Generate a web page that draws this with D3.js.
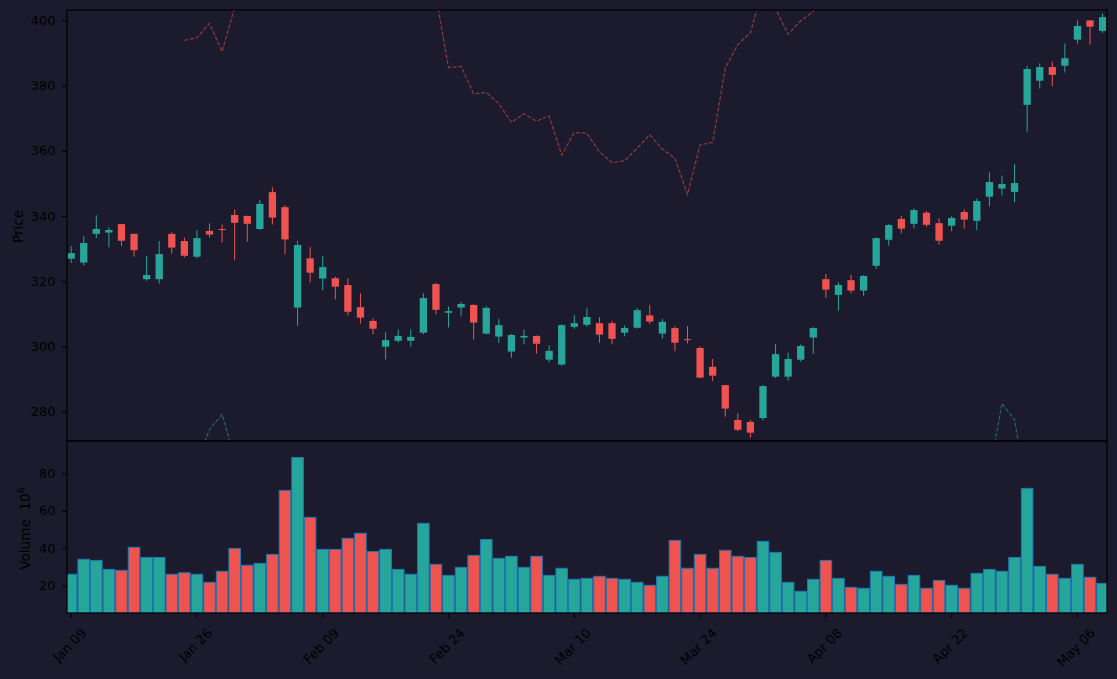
<!DOCTYPE html>
<html>
<head>
<meta charset="utf-8">
<script src="https://cdn.jsdelivr.net/npm/d3@7"></script>
<style>
  html, body { margin: 0; padding: 0; background: #1b1b2d; }
  svg { display: block; font-family: "DejaVu Sans", sans-serif; }
</style>
</head>
<body>
<svg id="chart" width="1117" height="679"></svg>
<script>
// tick labels on the date axis (every 10th session)
const tickIndex = [0, 10, 20, 30, 40, 50, 60, 70, 80];
const tickLabels = ["Jan 09", "Jan 26", "Feb 09", "Feb 24", "Mar 10", "Mar 24", "Apr 08", "Apr 22", "May 06"];

const open = [326.9, 325.7, 334.5, 334.9, 337.5, 334.5, 320.6, 320.6, 334.5, 332.3,
  327.5, 335.4, 336.0, 340.3, 340.0, 336.0, 347.3, 342.7, 311.9, 327.0,
  320.8, 320.9, 318.8, 312.0, 307.8, 299.9, 301.7, 301.7, 304.2, 319.1,
  310.3, 311.9, 312.7, 303.9, 303.0, 298.4, 302.7, 303.2, 295.9, 294.4,
  306.0, 306.6, 307.1, 307.1, 304.2, 305.7, 309.5, 303.9, 305.6, 302.2,
  299.5, 293.7, 288.1, 277.4, 276.8, 278.0, 290.7, 290.7, 295.9, 302.7,
  320.6, 315.8, 320.3, 317.1, 324.7, 332.7, 339.1, 337.6, 341.0, 337.8,
  337.0, 341.2, 338.5, 345.9, 348.4, 347.4, 374.1, 381.5, 385.7, 386.1,
  394.1, 400.0, 396.8];
const high = [330.7, 333.8, 340.2, 336.5, 337.6, 334.6, 327.7, 332.3, 335.0, 333.4,
  335.6, 337.7, 337.4, 342.0, 340.1, 344.9, 348.8, 343.3, 332.4, 330.4,
  327.7, 321.4, 320.9, 316.3, 308.6, 304.3, 305.2, 305.2, 316.3, 319.4,
  312.2, 313.6, 312.9, 312.3, 308.4, 303.8, 305.2, 303.3, 300.3, 306.8,
  309.6, 311.8, 309.0, 307.8, 306.4, 311.8, 312.7, 308.4, 306.1, 306.2,
  300.0, 296.1, 288.2, 279.5, 277.4, 288.1, 300.7, 298.1, 300.6, 305.9,
  322.2, 319.6, 321.9, 321.9, 333.4, 337.5, 340.0, 342.3, 341.5, 339.3,
  340.0, 342.0, 345.3, 353.4, 352.4, 355.9, 386.0, 386.8, 387.4, 392.9,
  400.0, 400.1, 402.1];
const low = [325.6, 324.8, 333.3, 330.4, 330.8, 327.5, 320.1, 319.3, 328.5, 327.3,
  327.0, 333.4, 331.9, 326.4, 332.1, 335.7, 337.4, 328.2, 306.3, 319.6,
  317.2, 314.4, 309.5, 307.0, 303.7, 296.0, 301.2, 299.9, 303.7, 309.8,
  305.8, 309.2, 302.1, 303.6, 301.1, 296.5, 300.6, 297.8, 295.1, 294.1,
  305.4, 306.0, 301.1, 300.6, 303.1, 305.4, 306.9, 302.4, 298.5, 300.9,
  290.2, 289.3, 278.4, 273.9, 272.0, 277.3, 290.3, 289.5, 295.3, 297.7,
  314.9, 310.9, 316.3, 315.5, 323.8, 330.9, 334.7, 336.2, 336.7, 331.2,
  335.3, 336.1, 335.6, 342.9, 346.3, 344.2, 365.9, 379.1, 379.8, 384.0,
  392.9, 392.6, 396.2];
const close = [328.6, 331.7, 336.0, 335.7, 332.4, 329.5, 321.9, 328.3, 330.3, 327.8,
  333.2, 334.3, 335.8, 337.9, 337.6, 343.7, 339.5, 332.8, 331.1, 322.6,
  324.3, 318.3, 310.6, 308.8, 305.4, 301.9, 303.2, 302.9, 314.8, 311.2,
  310.8, 313.0, 307.3, 311.8, 306.5, 303.5, 303.2, 300.8, 298.6, 306.5,
  307.1, 309.0, 303.6, 302.3, 305.6, 311.1, 307.6, 307.5, 301.1, 302.0,
  290.4, 291.0, 280.9, 274.4, 273.5, 287.8, 297.6, 296.1, 300.1, 305.6,
  317.4, 318.8, 317.1, 321.6, 333.2, 337.2, 336.1, 341.8, 337.3, 332.4,
  339.4, 338.9, 344.6, 350.4, 349.8, 350.1, 385.1, 385.7, 383.3, 388.4,
  398.3, 398.1, 401.0];
// volume in millions
const volume = [26.1, 34.1, 33.5, 28.7, 28.2, 40.5, 35.1, 35.1, 26.1, 26.9,
  26.1, 21.8, 27.7, 39.9, 30.9, 31.9, 36.7, 70.9, 88.5, 56.5,
  39.4, 39.4, 45.3, 48.0, 38.3, 39.4, 28.7, 26.1, 53.3, 31.4,
  25.5, 29.8, 36.2, 44.7, 34.6, 35.7, 29.8, 35.7, 25.5, 29.3,
  23.4, 23.9, 25.0, 23.9, 23.4, 21.8, 20.2, 25.0, 44.2, 29.3,
  36.7, 29.3, 38.9, 35.7, 35.1, 43.7, 37.8, 21.8, 17.0, 23.4,
  33.5, 23.9, 19.1, 18.6, 27.7, 25.0, 20.7, 25.5, 18.6, 22.8,
  20.2, 18.6, 26.6, 28.7, 27.7, 35.1, 72.0, 30.3, 26.1, 23.9,
  31.4, 24.5, 21.2];
// dashed band lines (mostly outside the visible price range)
const upperBand = [null, null, null, null, null, null, null, null, null, 393.9,
  394.7, 399.1, 390.4, 404.0, 412, 420, 428, 435, 440, 438,
  434, 430, 425, 420, 416, 413, 411, 410, 409, 407.6,
  385.5, 385.9, 377.5, 377.9, 374.5, 368.7, 371.4, 369.1, 370.7, 358.7,
  365.6, 365.4, 359.7, 356.4, 356.9, 360.8, 364.9, 360.5, 357.7, 346.6,
  361.8, 362.6, 385.3, 392.6, 396.2, 410, 403.6, 395.8, 399.9, 402.7,
  410, 418, 422, 424, 428, 432, 434, 433, 432, 431,
  430, 430, 432, 436, 440, 444, 452, 458, 462, 466,
  470, 474, 478];
const lowerBand = [null, null, null, null, null, null, null, null, null, 258,
  264, 274.5, 279.1, 265.7, 258, 252, 248, 242, 238, 236,
  238, 240, 242, 244, 245, 246, 247, 248, 250, 252,
  254, 252, 250, 248, 246, 244, 242, 240, 238, 236,
  234, 233, 232, 232, 233, 234, 235, 236, 237, 238,
  236, 232, 226, 220, 216, 214, 215, 220, 226, 232,
  236, 240, 244, 248, 250, 252, 254, 255, 256, 257,
  258, 259, 258, 260.9, 282.5, 277.4, 255, 250, 248, 250,
  252, 254, 256];

const up = "#26a69a", down = "#ef5350";
const svg = d3.select("#chart");
const left = 67, right = 1107;
const pTop = 10, pBot = 441, vBot = 613;
const fontSize = 13;
const labelSize = 13.6;

const x = d3.scaleLinear().domain([-0.33, 82.35]).range([left, right]);
const step = x(1) - x(0);
const y = d3.scaleLinear().domain([270.95, 403.2]).range([pBot, pTop]);
const yv = d3.scaleLinear().domain([5.4, 97.3]).range([vBot, pBot]);

const idx = d3.range(close.length);
const colorOf = i => close[i] >= open[i] ? up : down;

const defs = svg.append("defs");
defs.append("clipPath").attr("id", "clipP")
  .append("rect").attr("x", left).attr("y", pTop).attr("width", right - left).attr("height", pBot - pTop);
defs.append("clipPath").attr("id", "clipV")
  .append("rect").attr("x", left).attr("y", pBot).attr("width", right - left).attr("height", vBot - pBot);

// volume bars
svg.append("g").attr("clip-path", "url(#clipV)")
  .selectAll("rect").data(idx).join("rect")
  .attr("x", i => x(i) - step / 2 + 0.5)
  .attr("width", step - 1)
  .attr("y", i => yv(volume[i]))
  .attr("height", i => vBot - yv(volume[i]))
  .attr("fill", colorOf)
  .attr("stroke", "#1f77b4")
  .attr("stroke-width", 1);

// candles
const cg = svg.append("g").attr("clip-path", "url(#clipP)");
cg.selectAll("line").data(idx).join("line")
  .attr("x1", i => x(i)).attr("x2", i => x(i))
  .attr("y1", i => y(high[i])).attr("y2", i => y(low[i]))
  .attr("stroke", colorOf).attr("stroke-width", 1);
const bw = step * 0.58;
cg.selectAll("rect").data(idx).join("rect")
  .attr("x", i => x(i) - bw / 2)
  .attr("width", bw)
  .attr("y", i => y(Math.max(open[i], close[i])))
  .attr("height", i => Math.max(1, Math.abs(y(open[i]) - y(close[i]))))
  .attr("fill", colorOf);

// dashed band lines
const line = d3.line()
  .defined(d => d[1] != null)
  .x(d => x(d[0]))
  .y(d => y(d[1]));
[[upperBand, down], [lowerBand, up]].forEach(([vals, col]) => {
  cg.append("path")
    .datum(vals.map((v, i) => [i, v]))
    .attr("fill", "none")
    .attr("stroke", col)
    .attr("stroke-opacity", 0.55)
    .attr("stroke-width", 1.2)
    .attr("stroke-dasharray", "4,1.8")
    .attr("d", line);
});

// axes
function styleAxis(g) {
  g.select(".domain").remove();
  g.selectAll("line").attr("stroke", "#000");
  g.selectAll("text").attr("fill", "#000").style("font-size", fontSize + "px")
    .style("font-family", "DejaVu Sans, sans-serif");
}
svg.append("g").attr("transform", `translate(${left},0)`)
  .call(d3.axisLeft(y).tickValues([280, 300, 320, 340, 360, 380, 400]).tickSize(5).tickPadding(6.5).tickFormat(d3.format("d")))
  .call(styleAxis);
svg.append("g").attr("transform", `translate(${left},0)`)
  .call(d3.axisLeft(yv).tickValues([20, 40, 60, 80]).tickSize(5).tickPadding(6.5).tickFormat(d3.format("d")))
  .call(styleAxis);

// bottom ticks
const xt = svg.append("g");
xt.selectAll("line").data(tickIndex).join("line")
  .attr("x1", d => x(d)).attr("x2", d => x(d))
  .attr("y1", vBot).attr("y2", vBot + 5)
  .attr("stroke", "#000");
xt.selectAll("text").data(tickIndex).join("text")
  .attr("text-anchor", "middle")
  .attr("dominant-baseline", "central")
  .style("font-size", fontSize + "px")
  .attr("fill", "#000")
  .text((d, i) => tickLabels[i])
  .attr("transform", function (d) {
    const w = this.getComputedTextLength();
    const half = (w + fontSize * 0.9) * Math.SQRT1_2 / 2;
    return `translate(${x(d) - 1.5},${vBot + 13.5 + half}) rotate(-45)`;
  });

// frames
svg.append("rect").attr("x", left).attr("y", pTop).attr("width", right - left).attr("height", pBot - pTop)
  .attr("fill", "none").attr("stroke", "#000").attr("stroke-width", 1.2);
svg.append("rect").attr("x", left).attr("y", pBot).attr("width", right - left).attr("height", vBot - pBot)
  .attr("fill", "none").attr("stroke", "#000").attr("stroke-width", 1.2);

// axis titles
svg.append("text")
  .attr("transform", `translate(22.5,${(pTop + pBot) / 2 + 1}) rotate(-90)`)
  .attr("text-anchor", "middle")
  .style("font-size", labelSize + "px")
  .attr("fill", "#000")
  .text("Price");
const vt = svg.append("text")
  .attr("transform", `translate(29.5,${(pBot + vBot) / 2 + 1.5}) rotate(-90)`)
  .attr("text-anchor", "middle")
  .style("font-size", labelSize + "px")
  .attr("fill", "#000");
vt.append("tspan").text("Volume\u00a0\u00a010");
vt.append("tspan").attr("dy", -5.5).style("font-size", "9.5px").text("6");
</script>
</body>
</html>
